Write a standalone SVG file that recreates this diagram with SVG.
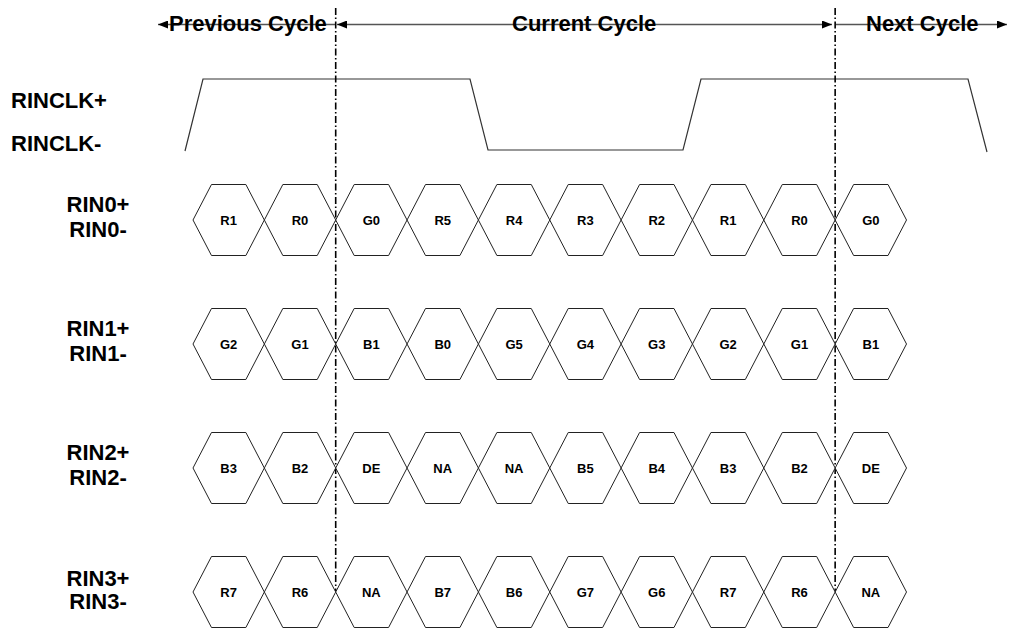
<svg xmlns="http://www.w3.org/2000/svg" xmlns:xlink="http://www.w3.org/1999/xlink" width="1017" height="629" viewBox="0 0 1017 629">
<style>
.t{font-family:"Liberation Sans",Arial,sans-serif;font-weight:bold;fill:#000}
.hdr{font-size:22px}
.sig{font-size:22px}
.row{font-size:22px;text-anchor:middle}
.lbl{font-size:13px;text-anchor:middle}
.hex{fill:#fff;stroke:#222;stroke-width:1}
.clk{fill:none;stroke:#333;stroke-width:1.2}
.arr{fill:none;stroke:#555;stroke-width:1.3}
.div{fill:none;stroke:#000;stroke-width:1.6;stroke-dasharray:7,2.5,1.5,2.5}
</style>
<defs>
<polygon id="hx" class="hex" points="-35.675,0 -17.2,-35.5 17.2,-35.5 35.675,0 17.2,35.5 -17.2,35.5"/>
<marker id="ah" viewBox="0 0 10 8" refX="10" refY="4" markerWidth="10" markerHeight="8" markerUnits="userSpaceOnUse" orient="auto-start-reverse">
<path d="M0,0 L10,4 L0,8 z" fill="#000"/>
</marker>
</defs>
<rect width="1017" height="629" fill="#fff"/>

<g id="connectors">
<line class="arr" x1="158" y1="24.5" x2="335" y2="24.5" marker-start="url(#ah)"/>
<line class="arr" x1="337" y1="24.5" x2="832" y2="24.5" marker-start="url(#ah)" marker-end="url(#ah)"/>
<line class="arr" x1="836" y1="24.5" x2="1007" y2="24.5" marker-end="url(#ah)"/>
<polyline class="clk" points="185,151 203,79 470,79 488,150 683,150 701,79 968,79 987,152"/>
<line class="div" x1="335.7" y1="8" x2="335.7" y2="592"/>
<line class="div" x1="835.15" y1="8" x2="835.15" y2="592"/>
</g>

<g id="headers">
<text class="t hdr" x="169" y="31">Previous Cycle</text>
<text class="t hdr" x="512" y="31">Current Cycle</text>
<text class="t hdr" x="866" y="31">Next Cycle</text>
</g>

<g id="signal-labels">
<text class="t sig" x="11" y="108">RINCLK+</text>
<text class="t sig" x="11" y="151">RINCLK-</text>
<text class="t row" x="98" y="212">RIN0+</text>
<text class="t row" x="98" y="237">RIN0-</text>
<text class="t row" x="98" y="336">RIN1+</text>
<text class="t row" x="98" y="361">RIN1-</text>
<text class="t row" x="98" y="460">RIN2+</text>
<text class="t row" x="98" y="485">RIN2-</text>
<text class="t row" x="98" y="586">RIN3+</text>
<text class="t row" x="98" y="609">RIN3-</text>
</g>

<g id="row0">
<g id="r0c0"><use xlink:href="#hx" x="228.68" y="220"/><text class="t lbl" x="228.68" y="224.5">R1</text></g>
<g id="r0c1"><use xlink:href="#hx" x="300.03" y="220"/><text class="t lbl" x="300.03" y="224.5">R0</text></g>
<g id="r0c2"><use xlink:href="#hx" x="371.38" y="220"/><text class="t lbl" x="371.38" y="224.5">G0</text></g>
<g id="r0c3"><use xlink:href="#hx" x="442.73" y="220"/><text class="t lbl" x="442.73" y="224.5">R5</text></g>
<g id="r0c4"><use xlink:href="#hx" x="514.08" y="220"/><text class="t lbl" x="514.08" y="224.5">R4</text></g>
<g id="r0c5"><use xlink:href="#hx" x="585.43" y="220"/><text class="t lbl" x="585.43" y="224.5">R3</text></g>
<g id="r0c6"><use xlink:href="#hx" x="656.78" y="220"/><text class="t lbl" x="656.78" y="224.5">R2</text></g>
<g id="r0c7"><use xlink:href="#hx" x="728.13" y="220"/><text class="t lbl" x="728.13" y="224.5">R1</text></g>
<g id="r0c8"><use xlink:href="#hx" x="799.48" y="220"/><text class="t lbl" x="799.48" y="224.5">R0</text></g>
<g id="r0c9"><use xlink:href="#hx" x="870.83" y="220"/><text class="t lbl" x="870.83" y="224.5">G0</text></g>
</g>

<g id="row1">
<g id="r1c0"><use xlink:href="#hx" x="228.68" y="344"/><text class="t lbl" x="228.68" y="348.5">G2</text></g>
<g id="r1c1"><use xlink:href="#hx" x="300.03" y="344"/><text class="t lbl" x="300.03" y="348.5">G1</text></g>
<g id="r1c2"><use xlink:href="#hx" x="371.38" y="344"/><text class="t lbl" x="371.38" y="348.5">B1</text></g>
<g id="r1c3"><use xlink:href="#hx" x="442.73" y="344"/><text class="t lbl" x="442.73" y="348.5">B0</text></g>
<g id="r1c4"><use xlink:href="#hx" x="514.08" y="344"/><text class="t lbl" x="514.08" y="348.5">G5</text></g>
<g id="r1c5"><use xlink:href="#hx" x="585.43" y="344"/><text class="t lbl" x="585.43" y="348.5">G4</text></g>
<g id="r1c6"><use xlink:href="#hx" x="656.78" y="344"/><text class="t lbl" x="656.78" y="348.5">G3</text></g>
<g id="r1c7"><use xlink:href="#hx" x="728.13" y="344"/><text class="t lbl" x="728.13" y="348.5">G2</text></g>
<g id="r1c8"><use xlink:href="#hx" x="799.48" y="344"/><text class="t lbl" x="799.48" y="348.5">G1</text></g>
<g id="r1c9"><use xlink:href="#hx" x="870.83" y="344"/><text class="t lbl" x="870.83" y="348.5">B1</text></g>
</g>

<g id="row2">
<g id="r2c0"><use xlink:href="#hx" x="228.68" y="468"/><text class="t lbl" x="228.68" y="472.5">B3</text></g>
<g id="r2c1"><use xlink:href="#hx" x="300.03" y="468"/><text class="t lbl" x="300.03" y="472.5">B2</text></g>
<g id="r2c2"><use xlink:href="#hx" x="371.38" y="468"/><text class="t lbl" x="371.38" y="472.5">DE</text></g>
<g id="r2c3"><use xlink:href="#hx" x="442.73" y="468"/><text class="t lbl" x="442.73" y="472.5">NA</text></g>
<g id="r2c4"><use xlink:href="#hx" x="514.08" y="468"/><text class="t lbl" x="514.08" y="472.5">NA</text></g>
<g id="r2c5"><use xlink:href="#hx" x="585.43" y="468"/><text class="t lbl" x="585.43" y="472.5">B5</text></g>
<g id="r2c6"><use xlink:href="#hx" x="656.78" y="468"/><text class="t lbl" x="656.78" y="472.5">B4</text></g>
<g id="r2c7"><use xlink:href="#hx" x="728.13" y="468"/><text class="t lbl" x="728.13" y="472.5">B3</text></g>
<g id="r2c8"><use xlink:href="#hx" x="799.48" y="468"/><text class="t lbl" x="799.48" y="472.5">B2</text></g>
<g id="r2c9"><use xlink:href="#hx" x="870.83" y="468"/><text class="t lbl" x="870.83" y="472.5">DE</text></g>
</g>

<g id="row3">
<g id="r3c0"><use xlink:href="#hx" x="228.68" y="592"/><text class="t lbl" x="228.68" y="596.5">R7</text></g>
<g id="r3c1"><use xlink:href="#hx" x="300.03" y="592"/><text class="t lbl" x="300.03" y="596.5">R6</text></g>
<g id="r3c2"><use xlink:href="#hx" x="371.38" y="592"/><text class="t lbl" x="371.38" y="596.5">NA</text></g>
<g id="r3c3"><use xlink:href="#hx" x="442.73" y="592"/><text class="t lbl" x="442.73" y="596.5">B7</text></g>
<g id="r3c4"><use xlink:href="#hx" x="514.08" y="592"/><text class="t lbl" x="514.08" y="596.5">B6</text></g>
<g id="r3c5"><use xlink:href="#hx" x="585.43" y="592"/><text class="t lbl" x="585.43" y="596.5">G7</text></g>
<g id="r3c6"><use xlink:href="#hx" x="656.78" y="592"/><text class="t lbl" x="656.78" y="596.5">G6</text></g>
<g id="r3c7"><use xlink:href="#hx" x="728.13" y="592"/><text class="t lbl" x="728.13" y="596.5">R7</text></g>
<g id="r3c8"><use xlink:href="#hx" x="799.48" y="592"/><text class="t lbl" x="799.48" y="596.5">R6</text></g>
<g id="r3c9"><use xlink:href="#hx" x="870.83" y="592"/><text class="t lbl" x="870.83" y="596.5">NA</text></g>
</g>
</svg>
